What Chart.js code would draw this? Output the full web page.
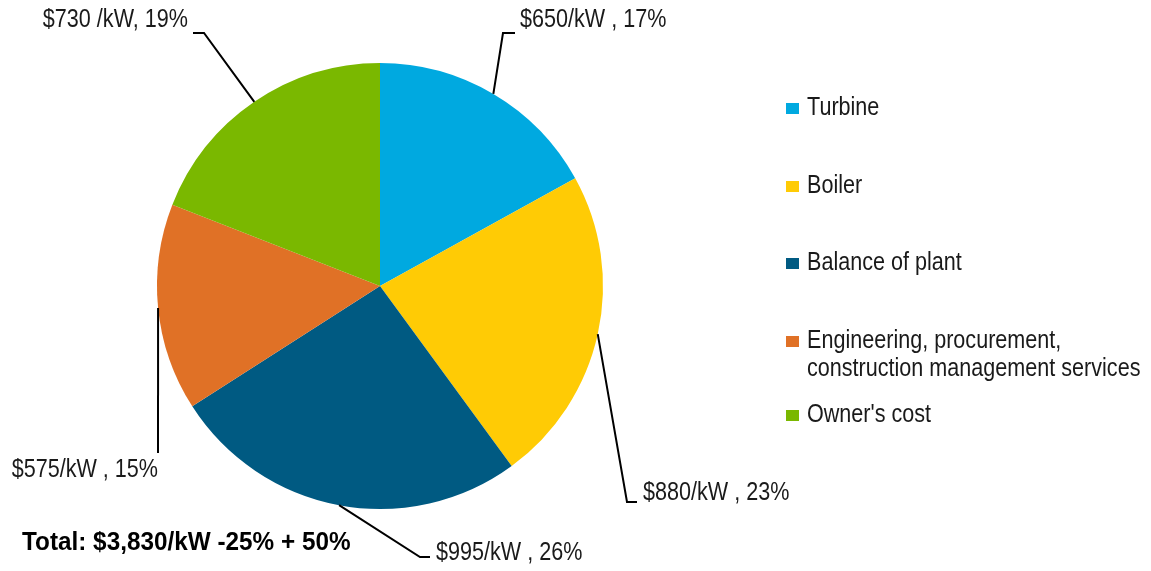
<!DOCTYPE html>
<html>
<head>
<meta charset="utf-8">
<script src="https://cdn.jsdelivr.net/npm/chart.js@4.4.0/dist/chart.umd.min.js"></script>
<style>
  html, body { margin: 0; padding: 0; background: #fff; }
  #wrap { width: 1151px; height: 571px; position: relative; }
</style>
</head>
<body>
<div id="wrap"><canvas id="cost-chart" width="1151" height="571"></canvas></div>
<script>
// 데이터
const categories = ['Turbine', 'Boiler', 'Balance of plant', 'Engineering, procurement,\nconstruction management services', "Owner's cost"];
const costPerKw = [650, 880, 995, 575, 730];
const sliceLabels = ['$650/kW , 17%', '$880/kW , 23%', '$995/kW , 26%', '$575/kW , 15%', '$730 /kW, 19%'];
const totalText = 'Total: $3,830/kW -25% + 50%';

const colors = ['#00A9E0', '#FFCB05', '#005A82', '#E07126', '#7AB800'];
const FONT = "'Liberation Sans', Arial, sans-serif";
const NARROW = 0.83; // Arial Narrow 흉내
const TEXT_COLOR = '#1a1a1a';

// 라벨 위치 (꺾임점, 끝점, 텍스트)
const labelLayout = [
    { elbow: [503, 33], end: [515, 33], text: [520, 20], align: 'left' },
    { elbow: [627, 502], end: [637, 502], text: [643, 493], align: 'left' },
    { elbow: [420, 557], end: [430, 557], text: [436, 553], align: 'left' },
    { elbow: [158, 453], end: [158, 453], text: [158, 470], align: 'right' },
    { elbow: [204, 33], end: [193, 33], text: [188, 20], align: 'right' }
];
const legendY = [108, 186, 263, 341, 415];

function fillNarrow(ctx, text, x, y, align, sx = NARROW) {
    ctx.save();
    ctx.translate(x, y);
    ctx.scale(sx, 1);
    ctx.textAlign = align;
    ctx.fillText(text, 0, 0);
    ctx.restore();
}

// 라벨 + 범례 플러그인
const labelPlugin = {
    id: 'sliceLabels',
    afterDraw(chart) {
        const ctx = chart.ctx;
        const arcs = chart.getDatasetMeta(0).data;
        ctx.save();
        ctx.font = `26px ${FONT}`;
        ctx.textBaseline = 'middle';
        arcs.forEach((arc, i) => {
            const mid = (arc.startAngle + arc.endAngle) / 2;
            const ax = arc.x + Math.cos(mid) * arc.outerRadius;
            const ay = arc.y + Math.sin(mid) * arc.outerRadius;
            const l = labelLayout[i];
            ctx.strokeStyle = '#000';
            ctx.lineWidth = 2;
            ctx.beginPath();
            ctx.moveTo(ax, ay);
            ctx.lineTo(l.elbow[0], l.elbow[1]);
            ctx.lineTo(l.end[0], l.end[1]);
            ctx.stroke();
            ctx.fillStyle = TEXT_COLOR;
            fillNarrow(ctx, sliceLabels[i], l.text[0], l.text[1], l.align);
        });

        // 범례
        categories.forEach((name, i) => {
            const y = legendY[i];
            ctx.fillStyle = colors[i];
            ctx.fillRect(786, y - 5, 13, 11);
            ctx.fillStyle = TEXT_COLOR;
            name.split('\n').forEach((line, j) => {
                fillNarrow(ctx, line, 807, y + j * 28, 'left');
            });
        });

        // 합계
        ctx.font = `bold 26px ${FONT}`;
        ctx.fillStyle = '#000';
        fillNarrow(ctx, totalText, 22, 543, 'left', 0.935);
        ctx.restore();
    }
};

const ctx = document.getElementById('cost-chart').getContext('2d');
const costChart = new Chart(ctx, {
    type: 'pie',
    data: {
        labels: categories,
        datasets: [{
            data: costPerKw,
            backgroundColor: colors,
            borderWidth: 0
        }]
    },
    options: {
        responsive: false,
        animation: false,
        layout: {
            padding: { top: 63, bottom: 62, left: 157, right: 548 }
        },
        plugins: {
            legend: { display: false },
            tooltip: { enabled: false }
        }
    },
    plugins: [labelPlugin]
});
</script>
</body>
</html>
